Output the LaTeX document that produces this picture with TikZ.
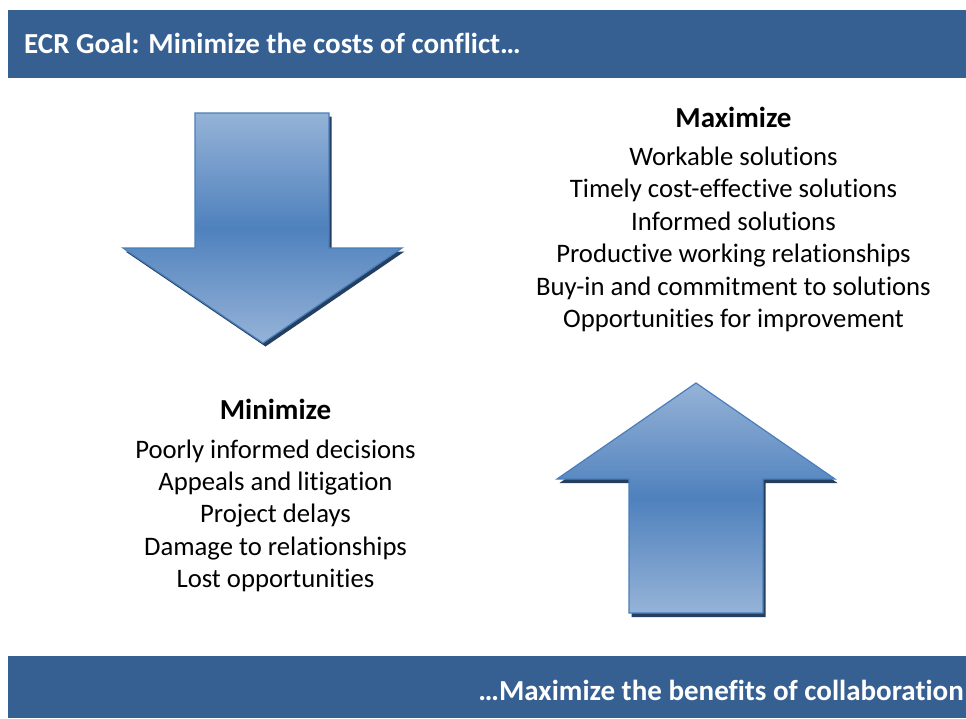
\documentclass[tikz,border=0pt]{standalone}
\usepackage{fontspec}
\setmainfont{Carlito}[Ligatures={NoCommon}]
\definecolor{barblue}{HTML}{366092}
\definecolor{arrlight}{HTML}{95B3D7}
\definecolor{arrdark}{HTML}{4F81BD}
\definecolor{arrshadow}{HTML}{243F60}
\definecolor{arredge}{HTML}{4A7EBB}
\begin{document}
\begin{tikzpicture}[x=1pt,y=-1pt,
  bar/.style={fill=barblue, draw=none},
  bartext/.style={text=white, font=\fontsize{29}{34}\selectfont\bfseries, inner sep=0pt},
  headtext/.style={font=\fontsize{29}{32}\selectfont\bfseries, inner sep=0pt, anchor=base},
  itemtext/.style={font=\fontsize{26.7}{32}\selectfont, inner sep=0pt, anchor=base},
  arrowbody/.style={top color=arrlight, bottom color=arrlight, middle color=arrdark, draw=arredge, line width=1.2pt, line join=miter},
  arrowshadow/.style={fill=arrshadow, draw=none}]
\useasboundingbox (0,0) rectangle (966,718);
\fill[white] (0,0) rectangle (966,718);
% bars
\path[bar] (8,10) rectangle (966,78);
\node[bartext, anchor=base west] (title) at (24,53.3) {ECR Goal: Minimize the costs of conflict…};
\path[bar] (8,656) rectangle (966,718);
\node[bartext, anchor=base east] (footer) at (964,700) {…Maximize the benefits of collaboration};
% down arrow
\fill[arrowshadow, shift={(2.5,3.5)}] (195,113) -- (329,113) -- (329,248) -- (402,248) -- (263,343) -- (123,248) -- (195,248) -- cycle;
\path[arrowbody] (195,113) -- (329,113) -- (329,248) -- (402,248) -- (263,343) -- (123,248) -- (195,248) -- cycle;
% up arrow
\fill[arrowshadow, shift={(2.5,4)}] (696,383) -- (835,479) -- (763,479) -- (763,613) -- (629,613) -- (629,479) -- (557,479) -- cycle;
\path[arrowbody] (696,383) -- (835,479) -- (763,479) -- (763,613) -- (629,613) -- (629,479) -- (557,479) -- cycle;
% maximize block
\node[headtext] (maxhead) at (733.5,127) {Maximize};
\node[itemtext] (max1) at (733.5,165) {Workable solutions};
\node[itemtext] (max2) at (733.5,197.5) {Timely cost-effective solutions};
\node[itemtext] (max3) at (733.5,230) {Informed solutions};
\node[itemtext] (max4) at (733.5,262.5) {Productive working relationships};
\node[itemtext] (max5) at (733.5,295) {Buy-in and commitment to solutions};
\node[itemtext] (max6) at (733.5,327.5) {Opportunities for improvement};
% minimize block
\node[headtext] (minhead) at (275.5,419) {Minimize};
\node[itemtext] (min1) at (275.5,458) {Poorly informed decisions};
\node[itemtext] (min2) at (275.5,490.3) {Appeals and litigation};
\node[itemtext] (min3) at (275.5,522.6) {Project delays};
\node[itemtext] (min4) at (275.5,555) {Damage to relationships};
\node[itemtext] (min5) at (275.5,587) {Lost opportunities};
\end{tikzpicture}
\end{document}
